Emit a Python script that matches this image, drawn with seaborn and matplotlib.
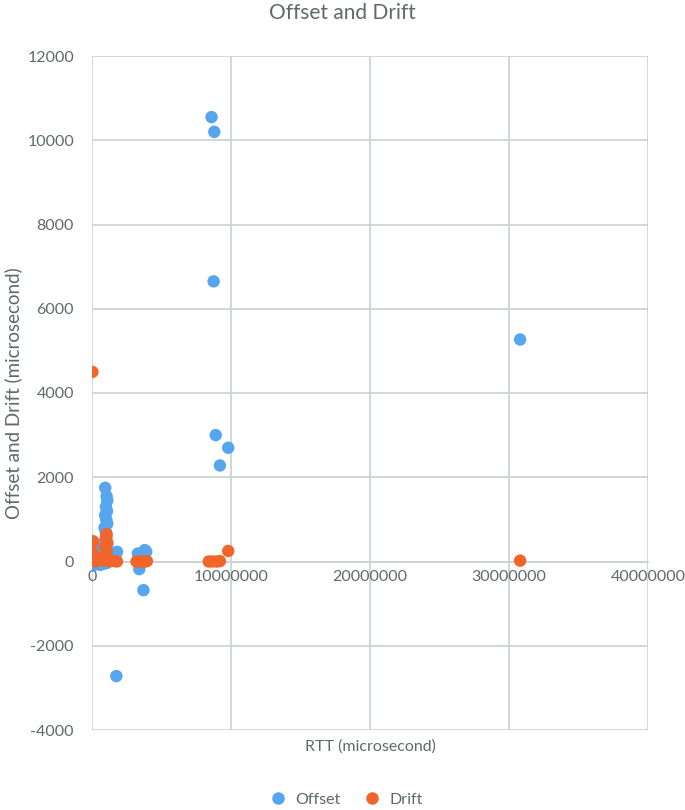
import matplotlib
matplotlib.use("Agg")
import matplotlib.pyplot as plt
import matplotlib.ticker as mticker
import seaborn as sns
import pandas as pd

# ----------------------------------------------------------------
# DATA
# ----------------------------------------------------------------
offset_rtt = [50000, 100000, 150000, 200000, 80000, 250000, 300000, 30000, 120000,
              950000, 1050000, 1100000, 1000000, 1080000, 950000, 1020000, 1100000,
              900000, 1000000, 1050000, 950000, 1100000, 800000, 1200000, 700000,
              1300000, 900000, 1100000, 600000,
              1800000, 1700000, 1750000,
              3300000, 3500000, 3800000, 3900000, 3400000, 3700000,
              8600000, 8800000, 8750000, 8900000, 9800000, 9200000, 30800000]
offset_val = [-100, 50, 200, 350, 120, -50, 100, 300, -80,
              1750, 1550, 1450, 1300, 1200, 1100, 1000, 900,
              800, 700, 600, 500, 400, 300, 200, 100,
              50, -50, -30, -80,
              230, 60, -2720,
              190, 150, 270, 230, -180, -680,
              10550, 10200, 6650, 3000, 2700, 2280, 5270]

drift_rtt = [30000, 80000, 50000, 150000, 0, 250000, 300000, 400000, 600000,
             1050000, 1000000, 1100000, 950000, 1050000, 1000000, 1100000, 900000,
             1200000, 1400000, 1600000, 1800000,
             3200000, 3400000, 3600000, 3800000, 3950000,
             8400000, 8700000, 9000000, 9200000, 9800000, 30800000]
drift_val = [4500, 480, 200, 100, 30, 50, 0, 20, 50,
             650, 550, 450, 350, 250, 150, 80, 30,
             10, 20, 10, 0,
             0, 0, 0, 0, 10,
             0, 0, 0, 10, 250, 20]

series_names = ["Offset", "Drift"]
colors = ["#55A6EE", "#F2652A"]

df = pd.concat([
    pd.DataFrame({"RTT": offset_rtt, "Value": offset_val, "Series": "Offset"}),
    pd.DataFrame({"RTT": drift_rtt, "Value": drift_val, "Series": "Drift"}),
], ignore_index=True)

# ----------------------------------------------------------------
# PLOT
# ----------------------------------------------------------------
sns.set_theme(style="whitegrid")
plt.rcParams["font.family"] = ["Lato", "DejaVu Sans"]
plt.rcParams["axes.unicode_minus"] = False
TXT = "#5E6A6A"
GRID = "#CDD5D4"

fig = plt.figure(figsize=(6.85, 8.1), dpi=100)
ax = fig.add_axes([92 / 685, 1 - 730 / 810, 556 / 685, 674 / 810])

sns.scatterplot(data=df, x="RTT", y="Value", hue="Series", hue_order=series_names,
                palette=colors, s=80, linewidth=0, ax=ax, legend=False, zorder=3)

ax.set_xlim(0, 40000000)
ax.set_ylim(-4000, 12000)
ax.xaxis.set_major_locator(mticker.MultipleLocator(10000000))
ax.yaxis.set_major_locator(mticker.MultipleLocator(2000))
ax.xaxis.set_major_formatter(mticker.FuncFormatter(lambda v, p: f"{int(v)}"))
ax.yaxis.set_major_formatter(mticker.FuncFormatter(lambda v, p: f"{int(v)}"))

ax.grid(True, color=GRID, linewidth=1.3)
for side in ["top", "right", "left"]:
    ax.spines[side].set_visible(False)
ax.spines["bottom"].set_position(("data", 0))
ax.spines["bottom"].set_color(GRID)
ax.spines["bottom"].set_linewidth(1.3)
ax.tick_params(axis="both", length=0, labelsize=11.5, colors=TXT)
ax.tick_params(axis="x", pad=6)
ax.tick_params(axis="y", pad=13)
ax.set_facecolor("white")

ax.set_xlabel("RTT (microsecond)", fontsize=11.5, color=TXT)
ax.xaxis.set_label_coords(0.5, -0.014)
ax.set_ylabel("Offset and Drift (microsecond)", fontsize=13.5, color=TXT)
ax.yaxis.set_label_coords(-0.126, 0.5)

fig.text(0.5, 1 - 13 / 810, "Offset and Drift", ha="center", va="center",
         fontsize=15, color=TXT)

handles = [plt.Line2D([], [], marker="o", linestyle="", color=c, markersize=8)
           for c in colors]
fig.legend(handles, series_names, loc="center", bbox_to_anchor=(0.5, 1 - 800 / 810),
           ncol=2, frameon=False, fontsize=11.5, labelcolor=TXT,
           handletextpad=0.1, columnspacing=1.0)

plt.savefig("out.png", dpi=100)
